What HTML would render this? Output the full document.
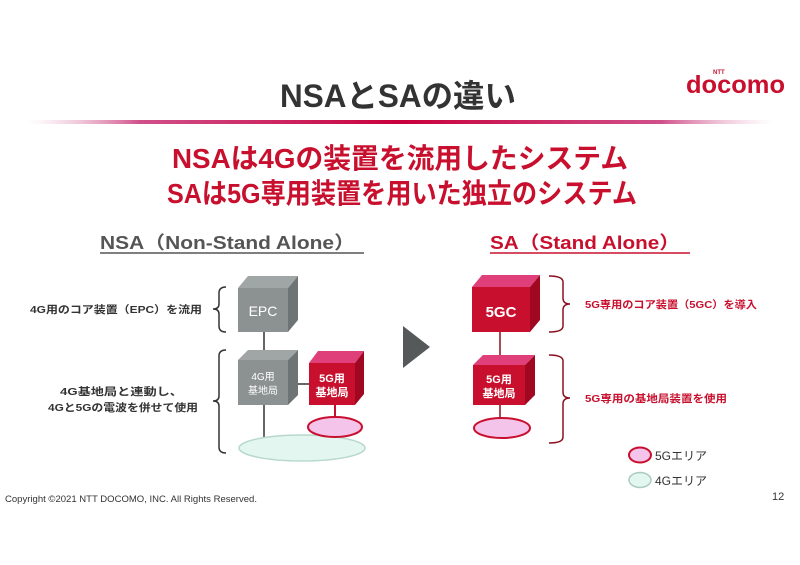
<!DOCTYPE html>
<html><head><meta charset="utf-8"><style>html,body{margin:0;padding:0;background:#fff}svg{display:block}text{font-family:"Liberation Sans","Noto Sans CJK JP",sans-serif}</style></head>
<body>
<svg width="800" height="565" viewBox="0 0 800 565" xmlns="http://www.w3.org/2000/svg">
<defs>
<linearGradient id="rl" x1="0" x2="1"><stop offset="0" stop-color="#e8b0c8" stop-opacity="0"/><stop offset="0.15" stop-color="#d0508a"/><stop offset="0.5" stop-color="#c8003c"/><stop offset="0.85" stop-color="#d0508a"/><stop offset="1" stop-color="#e8b0c8" stop-opacity="0"/></linearGradient>
</defs>
<text x="280" y="107" font-size="32" font-weight="bold" fill="#333" textLength="236" lengthAdjust="spacingAndGlyphs">NSAとSAの違い</text>
<text x="713" y="74" font-size="6" font-weight="bold" fill="#c8102e">NTT</text>
<text x="686" y="93" font-size="25" font-weight="bold" fill="#c8102e" textLength="99" lengthAdjust="spacingAndGlyphs">docomo</text>
<rect x="28" y="120" width="745" height="4" fill="url(#rl)"/>
<text x="172" y="168" font-size="28" font-weight="bold" fill="#c8102e" textLength="456" lengthAdjust="spacingAndGlyphs">NSAは4Gの装置を流用したシステム</text>
<text x="167" y="203" font-size="28" font-weight="bold" fill="#c8102e" textLength="470" lengthAdjust="spacingAndGlyphs">SAは5G専用装置を用いた独立のシステム</text>
<text x="100" y="249" font-size="18" font-weight="bold" fill="#555" textLength="255" lengthAdjust="spacingAndGlyphs">NSA（Non-Stand Alone）</text>
<line x1="100" y1="253" x2="364" y2="253" stroke="#555" stroke-width="1.5"/>
<text x="490" y="249" font-size="18" font-weight="bold" fill="#c8102e" textLength="190" lengthAdjust="spacingAndGlyphs">SA（Stand Alone）</text>
<line x1="490" y1="253" x2="690" y2="253" stroke="#c8102e" stroke-width="1.5"/>
<line x1="264" y1="330" x2="264" y2="440" stroke="#333" stroke-width="1.5"/>
<line x1="288" y1="384" x2="310" y2="384" stroke="#333" stroke-width="1.5"/>
<line x1="335" y1="404" x2="335" y2="418" stroke="#c8102e" stroke-width="2"/>
<ellipse cx="302" cy="448" rx="63" ry="13" fill="#e4f6f0" stroke="#b8d8cc" stroke-width="1.5"/>
<ellipse cx="335" cy="427" rx="27" ry="10" fill="#f4c4ea" stroke="#c8102e" stroke-width="2"/>
<polygon points="238,288 248,276 298,276 288,288" fill="#a0a5a5"/>
<polygon points="288,288 298,276 298,320 288,332" fill="#6e7474"/>
<rect x="238" y="288" width="50" height="44" fill="#8c9292"/>
<text x="263" y="316" font-size="14" fill="#fff" text-anchor="middle">EPC</text>
<polygon points="238,360 248,350 298,350 288,360" fill="#a0a5a5"/>
<polygon points="288,360 298,350 298,395 288,405" fill="#6e7474"/>
<rect x="238" y="360" width="50" height="45" fill="#8c9292"/>
<text x="263" y="380" font-size="10" fill="#fff" text-anchor="middle">4G用</text>
<text x="263" y="394" font-size="10" fill="#fff" text-anchor="middle">基地局</text>
<polygon points="309,363 318,351 364,351 355,363" fill="#e0407a"/>
<polygon points="355,363 364,351 364,394 355,405" fill="#a00822"/>
<rect x="309" y="363" width="46" height="42" fill="#c8102e"/>
<text x="332" y="382" font-size="11" font-weight="bold" fill="#fff" text-anchor="middle">5G用</text>
<text x="332" y="396" font-size="11" font-weight="bold" fill="#fff" text-anchor="middle">基地局</text>
<path d="M226,287 Q219,287 219,293 L219,304 Q219,309 213,309 Q219,309 219,314 L219,326 Q219,332 226,332" fill="none" stroke="#333" stroke-width="1.5"/>
<path d="M226,350 Q219,350 219,356 L219,396 Q219,401 213,401 Q219,401 219,406 L219,447 Q219,453 226,453" fill="none" stroke="#333" stroke-width="1.5"/>
<text x="30" y="313" font-size="10.5" font-weight="bold" fill="#333" textLength="172" lengthAdjust="spacingAndGlyphs">4G用のコア装置（EPC）を流用</text>
<text x="60" y="395" font-size="10.5" font-weight="bold" fill="#333" textLength="123" lengthAdjust="spacingAndGlyphs">4G基地局と連動し、</text>
<text x="48" y="411" font-size="10.5" font-weight="bold" fill="#333" textLength="150" lengthAdjust="spacingAndGlyphs">4Gと5Gの電波を併せて使用</text>
<polygon points="403,326 430,347 403,368" fill="#55595a"/>
<line x1="500" y1="330" x2="500" y2="418" stroke="#8a1020" stroke-width="1.5"/>
<ellipse cx="502" cy="428" rx="28" ry="10" fill="#f4c4ea" stroke="#c8102e" stroke-width="2"/>
<polygon points="472,287 482,275 540,275 530,287" fill="#e0407a"/>
<polygon points="530,287 540,275 540,320 530,332" fill="#a00822"/>
<rect x="472" y="287" width="58" height="45" fill="#c8102e"/>
<text x="501" y="317" font-size="15" font-weight="bold" fill="#fff" text-anchor="middle">5GC</text>
<polygon points="473,365 483,355 535,355 525,365" fill="#e0407a"/>
<polygon points="525,365 535,355 535,395 525,405" fill="#a00822"/>
<rect x="473" y="365" width="52" height="40" fill="#c8102e"/>
<text x="499" y="383" font-size="11" font-weight="bold" fill="#fff" text-anchor="middle">5G用</text>
<text x="499" y="397" font-size="11" font-weight="bold" fill="#fff" text-anchor="middle">基地局</text>
<path d="M549,276 Q563,276 563,282 L563,298 Q563,304 570,304 Q563,304 563,310 L563,326 Q563,332 549,332" fill="none" stroke="#8a1020" stroke-width="1.5"/>
<path d="M549,355 Q563,355 563,361 L563,392 Q563,398 570,398 Q563,398 563,404 L563,437 Q563,443 549,443" fill="none" stroke="#8a1020" stroke-width="1.5"/>
<text x="585" y="308" font-size="10.5" font-weight="bold" fill="#c8102e" textLength="172" lengthAdjust="spacingAndGlyphs">5G専用のコア装置（5GC）を導入</text>
<text x="585" y="402" font-size="10.5" font-weight="bold" fill="#c8102e" textLength="142" lengthAdjust="spacingAndGlyphs">5G専用の基地局装置を使用</text>
<ellipse cx="640" cy="455" rx="11" ry="7.5" fill="#f4c4ea" stroke="#c8102e" stroke-width="2"/>
<text x="655" y="460" font-size="12" fill="#333">5Gエリア</text>
<ellipse cx="640" cy="480" rx="11" ry="7.5" fill="#e4f6f0" stroke="#a8ccc0" stroke-width="1.5"/>
<text x="655" y="485" font-size="12" fill="#333">4Gエリア</text>
<text x="5" y="502" font-size="9" fill="#333" textLength="252" lengthAdjust="spacingAndGlyphs">Copyright ©2021 NTT DOCOMO, INC. All Rights Reserved.</text>
<text x="772" y="500" font-size="11" fill="#333">12</text>
</svg>
</body></html>
